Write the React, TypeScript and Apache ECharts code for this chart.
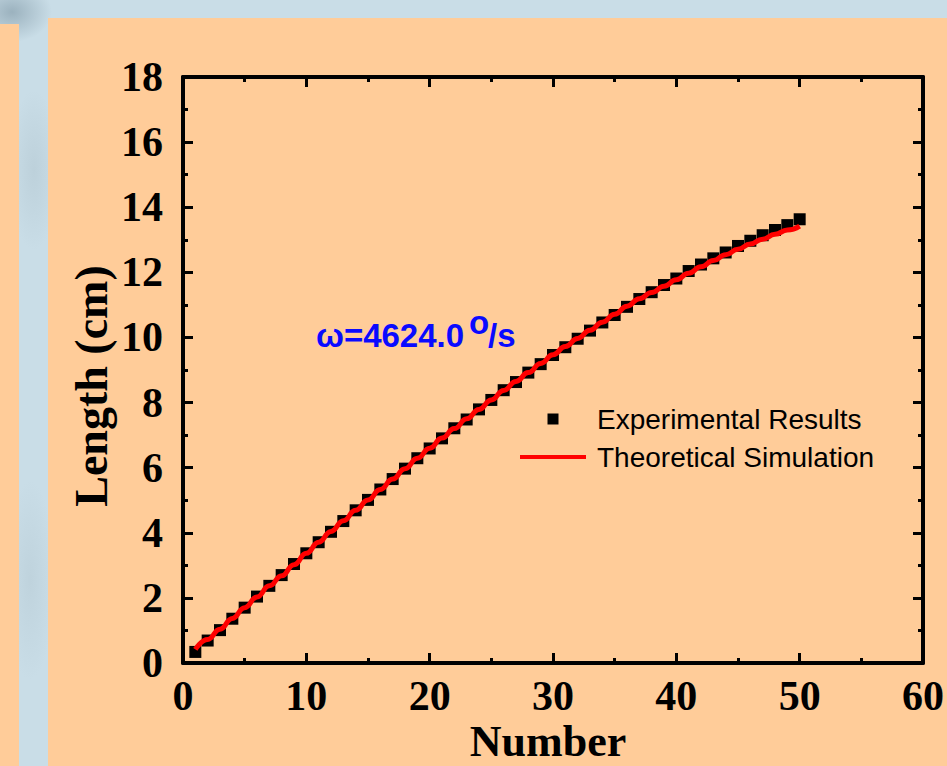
import React, { useEffect, useRef } from 'react';
import * as echarts from 'echarts';

// Run index of each measurement
const runNumbers = [
  1, 2, 3, 4, 5, 6, 7, 8, 9, 10,
  11, 12, 13, 14, 15, 16, 17, 18, 19, 20,
  21, 22, 23, 24, 25, 26, 27, 28, 29, 30,
  31, 32, 33, 34, 35, 36, 37, 38, 39, 40,
  41, 42, 43, 44, 45, 46, 47, 48, 49, 50,
];

// Measured length (cm)
const experimental = [
  0.34, 0.69, 1.01, 1.36, 1.70, 2.04, 2.37, 2.70, 3.04, 3.37,
  3.71, 4.03, 4.36, 4.69, 5.01, 5.33, 5.65, 5.97, 6.29, 6.59,
  6.90, 7.21, 7.48, 7.79, 8.08, 8.38, 8.63, 8.92, 9.18, 9.46,
  9.70, 9.96, 10.21, 10.46, 10.69, 10.94, 11.18, 11.39, 11.61, 11.81,
  12.04, 12.24, 12.43, 12.61, 12.81, 12.97, 13.14, 13.30, 13.45, 13.63,
];

// Simulated length (cm)
const theoretical = [
  0.42, 0.72, 1.04, 1.37, 1.70, 2.03, 2.37, 2.68, 3.02, 3.37,
  3.71, 4.04, 4.37, 4.69, 5.01, 5.33, 5.65, 5.97, 6.29, 6.60,
  6.91, 7.20, 7.50, 7.79, 8.08, 8.37, 8.65, 8.92, 9.20, 9.47,
  9.72, 9.97, 10.22, 10.47, 10.71, 10.96, 11.19, 11.38, 11.57, 11.77,
  11.97, 12.17, 12.36, 12.54, 12.71, 12.87, 13.02, 13.17, 13.30, 13.42,
];

const seriesNames = ['Experimental Results', 'Theoretical Simulation'];
const xTitle = 'Number';
const yTitle = 'Length (cm)';
const speedLabel = 'ω=4624.0';
const degreeMark = 'o';
const unitLabel = '/s';

const SERIF = "'Liberation Serif', 'Times New Roman', serif";
const SANS = "'Liberation Sans', Arial, sans-serif";

const axisCommon = (showLabel: boolean) => ({
  type: 'value' as const,
  axisLine: { show: true, onZero: false, lineStyle: { color: '#000', width: 4 } },
  axisTick: { show: true, inside: true, length: 10, lineStyle: { color: '#000', width: 3 } },
  minorTick: { show: true, splitNumber: 2, length: 5, lineStyle: { color: '#000', width: 3 } },
  splitLine: { show: false },
  axisLabel: {
    show: showLabel,
    fontFamily: SERIF,
    fontWeight: 'bold' as const,
    fontSize: 42,
    color: '#000',
  },
});

export default function App() {
  const ref = useRef<HTMLDivElement>(null);

  useEffect(() => {
    if (!ref.current) return;
    const chart = echarts.init(ref.current, undefined, { renderer: 'svg' });

    const x0 = axisCommon(true);
    const y0 = axisCommon(true);

    chart.setOption({
      animation: false,
      backgroundColor: 'transparent',
      grid: { left: 183, right: 17, top: 77, bottom: 103, containLabel: false },
      xAxis: [
        { ...x0, min: 0, max: 60, interval: 10, position: 'bottom', axisLabel: { ...x0.axisLabel, margin: 12 } },
        { ...axisCommon(false), min: 0, max: 60, interval: 10, position: 'top' },
      ],
      yAxis: [
        { ...y0, min: 0, max: 18, interval: 2, position: 'left', axisLabel: { ...y0.axisLabel, margin: 20 } },
        { ...axisCommon(false), min: 0, max: 18, interval: 2, position: 'right' },
      ],
      legend: {
        show: true,
        orient: 'vertical',
        left: 520,
        top: 405,
        padding: 0,
        itemGap: 10,
        itemWidth: 66,
        itemHeight: 11,
        selectedMode: false,
        textStyle: { fontFamily: SANS, fontSize: 28, color: '#000', padding: [0, 0, 0, 6] },
        data: [
          { name: seriesNames[0], icon: 'path://M0 0H10V10H0Z' },
          { name: seriesNames[1], icon: 'path://M0 0H66V4H0Z' },
        ],
      },
      series: [
        {
          name: seriesNames[0],
          type: 'scatter',
          xAxisIndex: 0,
          yAxisIndex: 0,
          symbol: 'rect',
          symbolSize: 12,
          itemStyle: { color: '#000', opacity: 1 },
          data: runNumbers.map((n, i) => [n, experimental[i]]),
          z: 2,
        },
        {
          name: seriesNames[1],
          type: 'line',
          xAxisIndex: 0,
          yAxisIndex: 0,
          smooth: true,
          smoothMonotone: 'x',
          showSymbol: false,
          lineStyle: { color: '#ff0000', width: 5 },
          itemStyle: { color: '#ff0000' },
          data: runNumbers.map((n, i) => [n, theoretical[i]]),
          z: 3,
        },
      ],
      graphic: [
        {
          type: 'text',
          x: 548,
          y: 741,
          z: 10,
          style: {
            text: xTitle,
            fontFamily: SERIF,
            fontWeight: 'bold',
            fontSize: 44,
            fill: '#000',
            align: 'center',
            verticalAlign: 'middle',
          },
        },
        {
          type: 'text',
          x: 91,
          y: 386,
          rotation: Math.PI / 2,
          z: 10,
          style: {
            text: yTitle,
            fontFamily: SERIF,
            fontWeight: 'bold',
            fontSize: 46,
            fill: '#000',
            align: 'center',
            verticalAlign: 'middle',
          },
        },
        {
          type: 'text',
          x: 316,
          y: 335,
          z: 10,
          style: {
            text: speedLabel,
            fontFamily: SANS,
            fontWeight: 'bold',
            fontSize: 33,
            fill: '#0a0aff',
            align: 'left',
            verticalAlign: 'middle',
          },
        },
        {
          type: 'text',
          x: 469,
          y: 322,
          z: 10,
          style: {
            text: degreeMark,
            fontFamily: SANS,
            fontWeight: 'bold',
            fontSize: 33,
            fill: '#0a0aff',
            align: 'left',
            verticalAlign: 'middle',
          },
        },
        {
          type: 'text',
          x: 488,
          y: 335,
          z: 10,
          style: {
            text: unitLabel,
            fontFamily: SANS,
            fontWeight: 'bold',
            fontSize: 33,
            fill: '#0a0aff',
            align: 'left',
            verticalAlign: 'middle',
          },
        },
      ],
    });

    return () => chart.dispose();
  }, []);

  return (
    <div
      style={{
        position: 'absolute',
        left: 0,
        top: 0,
        width: 947,
        height: 766,
        overflow: 'hidden',
        background:
          'radial-gradient(ellipse 40px 30px at 12px 12px, rgba(110,135,150,0.5), rgba(110,135,150,0) 100%),' +
          'radial-gradient(ellipse 25px 80px at 34px 170px, rgba(160,180,190,0.3), rgba(160,180,190,0) 100%),' +
          'radial-gradient(ellipse 25px 100px at 30px 580px, rgba(160,180,190,0.25), rgba(160,180,190,0) 100%),' +
          '#c9dde7',
      }}
    >
      <div style={{ position: 'absolute', left: 0, top: 24, width: 19, height: 742, background: '#ffcc99' }} />
      <div style={{ position: 'absolute', left: 48, top: 18, width: 899, height: 748, background: '#ffcc99' }} />
      <div ref={ref} style={{ position: 'absolute', left: 0, top: 0, width: 947, height: 766 }} />
    </div>
  );
}
